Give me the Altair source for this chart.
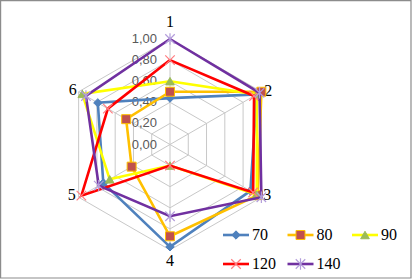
import altair as alt
import pandas as pd

# ---------------- data ----------------
axis_labels = ["1", "2", "3", "4", "5", "6"]
series_names = ["70", "80", "90", "120", "140"]
v70 = [0.44, 0.95, 0.88, 0.97, 0.73, 0.79]
v80 = [0.50, 1.00, 0.96, 0.87, 0.42, 0.48]
v90 = [0.60, 0.95, 0.95, 0.20, 0.66, 0.96]
v120 = [0.80, 0.92, 0.91, 0.20, 0.97, 0.68]
v140 = [1.00, 0.98, 1.00, 0.68, 0.78, 0.92]
ring_levels = [0.0, 0.2, 0.4, 0.6, 0.8, 1.0]
ring_labels = ["0,00", "0,20", "0,40", "0,60", "0,80", "1,00"]
series_values = [v70, v80, v90, v120, v140]

# ---------------- layout / style ----------------
W, H = 413, 280
CX, CY, R = 170.0, 144.5, 105.5
xdom = [-CX / R, (W - CX) / R]
ydom = [-(H - CY) / R, CY / R]

styles = {
    "70": dict(line="#4f81bd", shape="diamond", fill="#4f81bd", stroke="#4f81bd", size=70, filled=True, sw=1),
    "80": dict(line="#ffc000", shape="square", fill="#c0504d", stroke="#ffc000", size=81, filled=True, sw=1),
    "90": dict(line="#ffff00", shape="triangle-up", fill="#9bbb59", stroke="#9bbb59", size=75, filled=True, sw=1),
    "120": dict(line="#ff0000", shape="M-1,-1L1,1M-1,1L1,-1", fill="none", stroke="#ff7c80", size=90, filled=False, sw=1.2),
    "140": dict(line="#7030a0", shape="M-1,-1L1,1M-1,1L1,-1M0,-1.2L0,1.2", fill="none", stroke="#b39ddb", size=90, filled=False, sw=1.2),
}

GRID = "#c8c8c8"
SERIF = "Liberation Serif"
SANS = "Liberation Sans"


def X(field):
    return alt.X(field, type="quantitative",
                 scale=alt.Scale(domain=xdom, nice=False, zero=False), axis=None)


def Y(field):
    return alt.Y(field, type="quantitative",
                 scale=alt.Scale(domain=ydom, nice=False, zero=False), axis=None)


layers = []

# border
layers.append(
    alt.Chart(pd.DataFrame({"a": [0]})).mark_rect(fill=None, stroke="#8c8c8c", strokeWidth=1.2)
    .encode(x=alt.value(0.6), x2=alt.value(411), y=alt.value(0.6), y2=alt.value(278))
)

# grid rings
rings = pd.DataFrame([{"level": l, "k": k} for l in ring_levels if l > 0 for k in range(7)])
layers.append(
    alt.Chart(rings).transform_calculate(
        x="datum.level*sin(datum.k*PI/3)", y="datum.level*cos(datum.k*PI/3)"
    ).mark_line(color=GRID, strokeWidth=1).encode(
        x=X("x"), y=Y("y"), detail="level:N", order="k:Q")
)

# spokes
spokes = pd.DataFrame({"k": list(range(6))})
layers.append(
    alt.Chart(spokes).transform_calculate(
        x="sin(datum.k*PI/3)", y="cos(datum.k*PI/3)", x0="0", y0="0"
    ).mark_rule(color=GRID, strokeWidth=1).encode(
        x=X("x0"), y=Y("y0"), x2="x:Q", y2="y:Q")
)

# value labels
vl = pd.DataFrame({"level": ring_levels, "label": ring_labels})
layers.append(
    alt.Chart(vl).transform_calculate(x0="0").mark_text(
        align="right", baseline="middle", dx=-13, font=SANS, fontSize=13, color="#595959"
    ).encode(x=X("x0"), y=Y("level"), text="label:N")
)

# category labels
label_pos = {
    "1": dict(align="center", dx=0, dy=-17),
    "2": dict(align="left", dx=3, dy=-1),
    "3": dict(align="left", dx=2, dy=-2),
    "4": dict(align="center", dx=0, dy=11),
    "5": dict(align="right", dx=-3, dy=-2),
    "6": dict(align="right", dx=-2, dy=-2),
}
cat = pd.DataFrame({"k": list(range(6)), "label": axis_labels})
for lab in axis_labels:
    p = label_pos[lab]
    layers.append(
        alt.Chart(cat).transform_filter(alt.datum.label == lab).transform_calculate(
            x="sin(datum.k*PI/3)", y="cos(datum.k*PI/3)"
        ).mark_text(align=p["align"], baseline="middle", dx=p["dx"], dy=p["dy"],
                    font=SERIF, fontSize=16, color="black"
        ).encode(x=X("x"), y=Y("y"), text="label:N")
    )

# series
for name, vals in zip(series_names, series_values):
    s = styles[name]
    df = pd.DataFrame({"k": list(range(7)), "value": vals + vals[:1]})
    base = alt.Chart(df).transform_calculate(
        x="datum.value*sin(datum.k*PI/3)", y="datum.value*cos(datum.k*PI/3)")
    layers.append(
        base.mark_line(color=s["line"], strokeWidth=2.6, strokeJoin="miter")
        .encode(x=X("x"), y=Y("y"), order="k:Q")
    )
    layers.append(
        base.transform_filter("datum.k < 6").mark_point(
            shape=s["shape"], size=s["size"], filled=s["filled"], fill=s["fill"],
            stroke=s["stroke"], strokeWidth=s["sw"], opacity=1
        ).encode(x=X("x"), y=Y("y"))
    )

# legend
LX0, LDX, LY0, LDY, LLEN = 223.0, 64.5, 235.0, 29.0, 26.0
leg = pd.DataFrame({"i": list(range(len(series_names))), "name": series_names})
for i, name in enumerate(series_names):
    s = styles[name]
    b = alt.Chart(leg).transform_filter(alt.datum.i == i).transform_calculate(
        lx1=f"({LX0} + (datum.i % 3)*{LDX} - {CX})/{R}",
        lx2=f"({LX0} + (datum.i % 3)*{LDX} + {LLEN} - {CX})/{R}",
        lxm=f"({LX0} + (datum.i % 3)*{LDX} + {LLEN}/2 - {CX})/{R}",
        lxt=f"({LX0} + (datum.i % 3)*{LDX} + {LLEN} + 3 - {CX})/{R}",
        ly=f"({CY} - ({LY0} + floor(datum.i/3)*{LDY}))/{R}",
    )
    layers.append(b.mark_rule(color=s["line"], strokeWidth=2.6).encode(
        x=X("lx1"), x2="lx2:Q", y=Y("ly")))
    layers.append(b.mark_point(
        shape=s["shape"], size=s["size"], filled=s["filled"], fill=s["fill"],
        stroke=s["stroke"], strokeWidth=s["sw"], opacity=1
    ).encode(x=X("lxm"), y=Y("ly")))
    layers.append(b.mark_text(align="left", baseline="middle", font=SERIF, fontSize=16,
                              color="black").encode(x=X("lxt"), y=Y("ly"), text="name:N"))

chart = alt.layer(*layers).properties(
    width=W, height=H, padding=0, autosize="none", background="white"
).configure_view(stroke=None)

chart.save("out.html", embed_options={"renderer": "svg", "actions": False})
